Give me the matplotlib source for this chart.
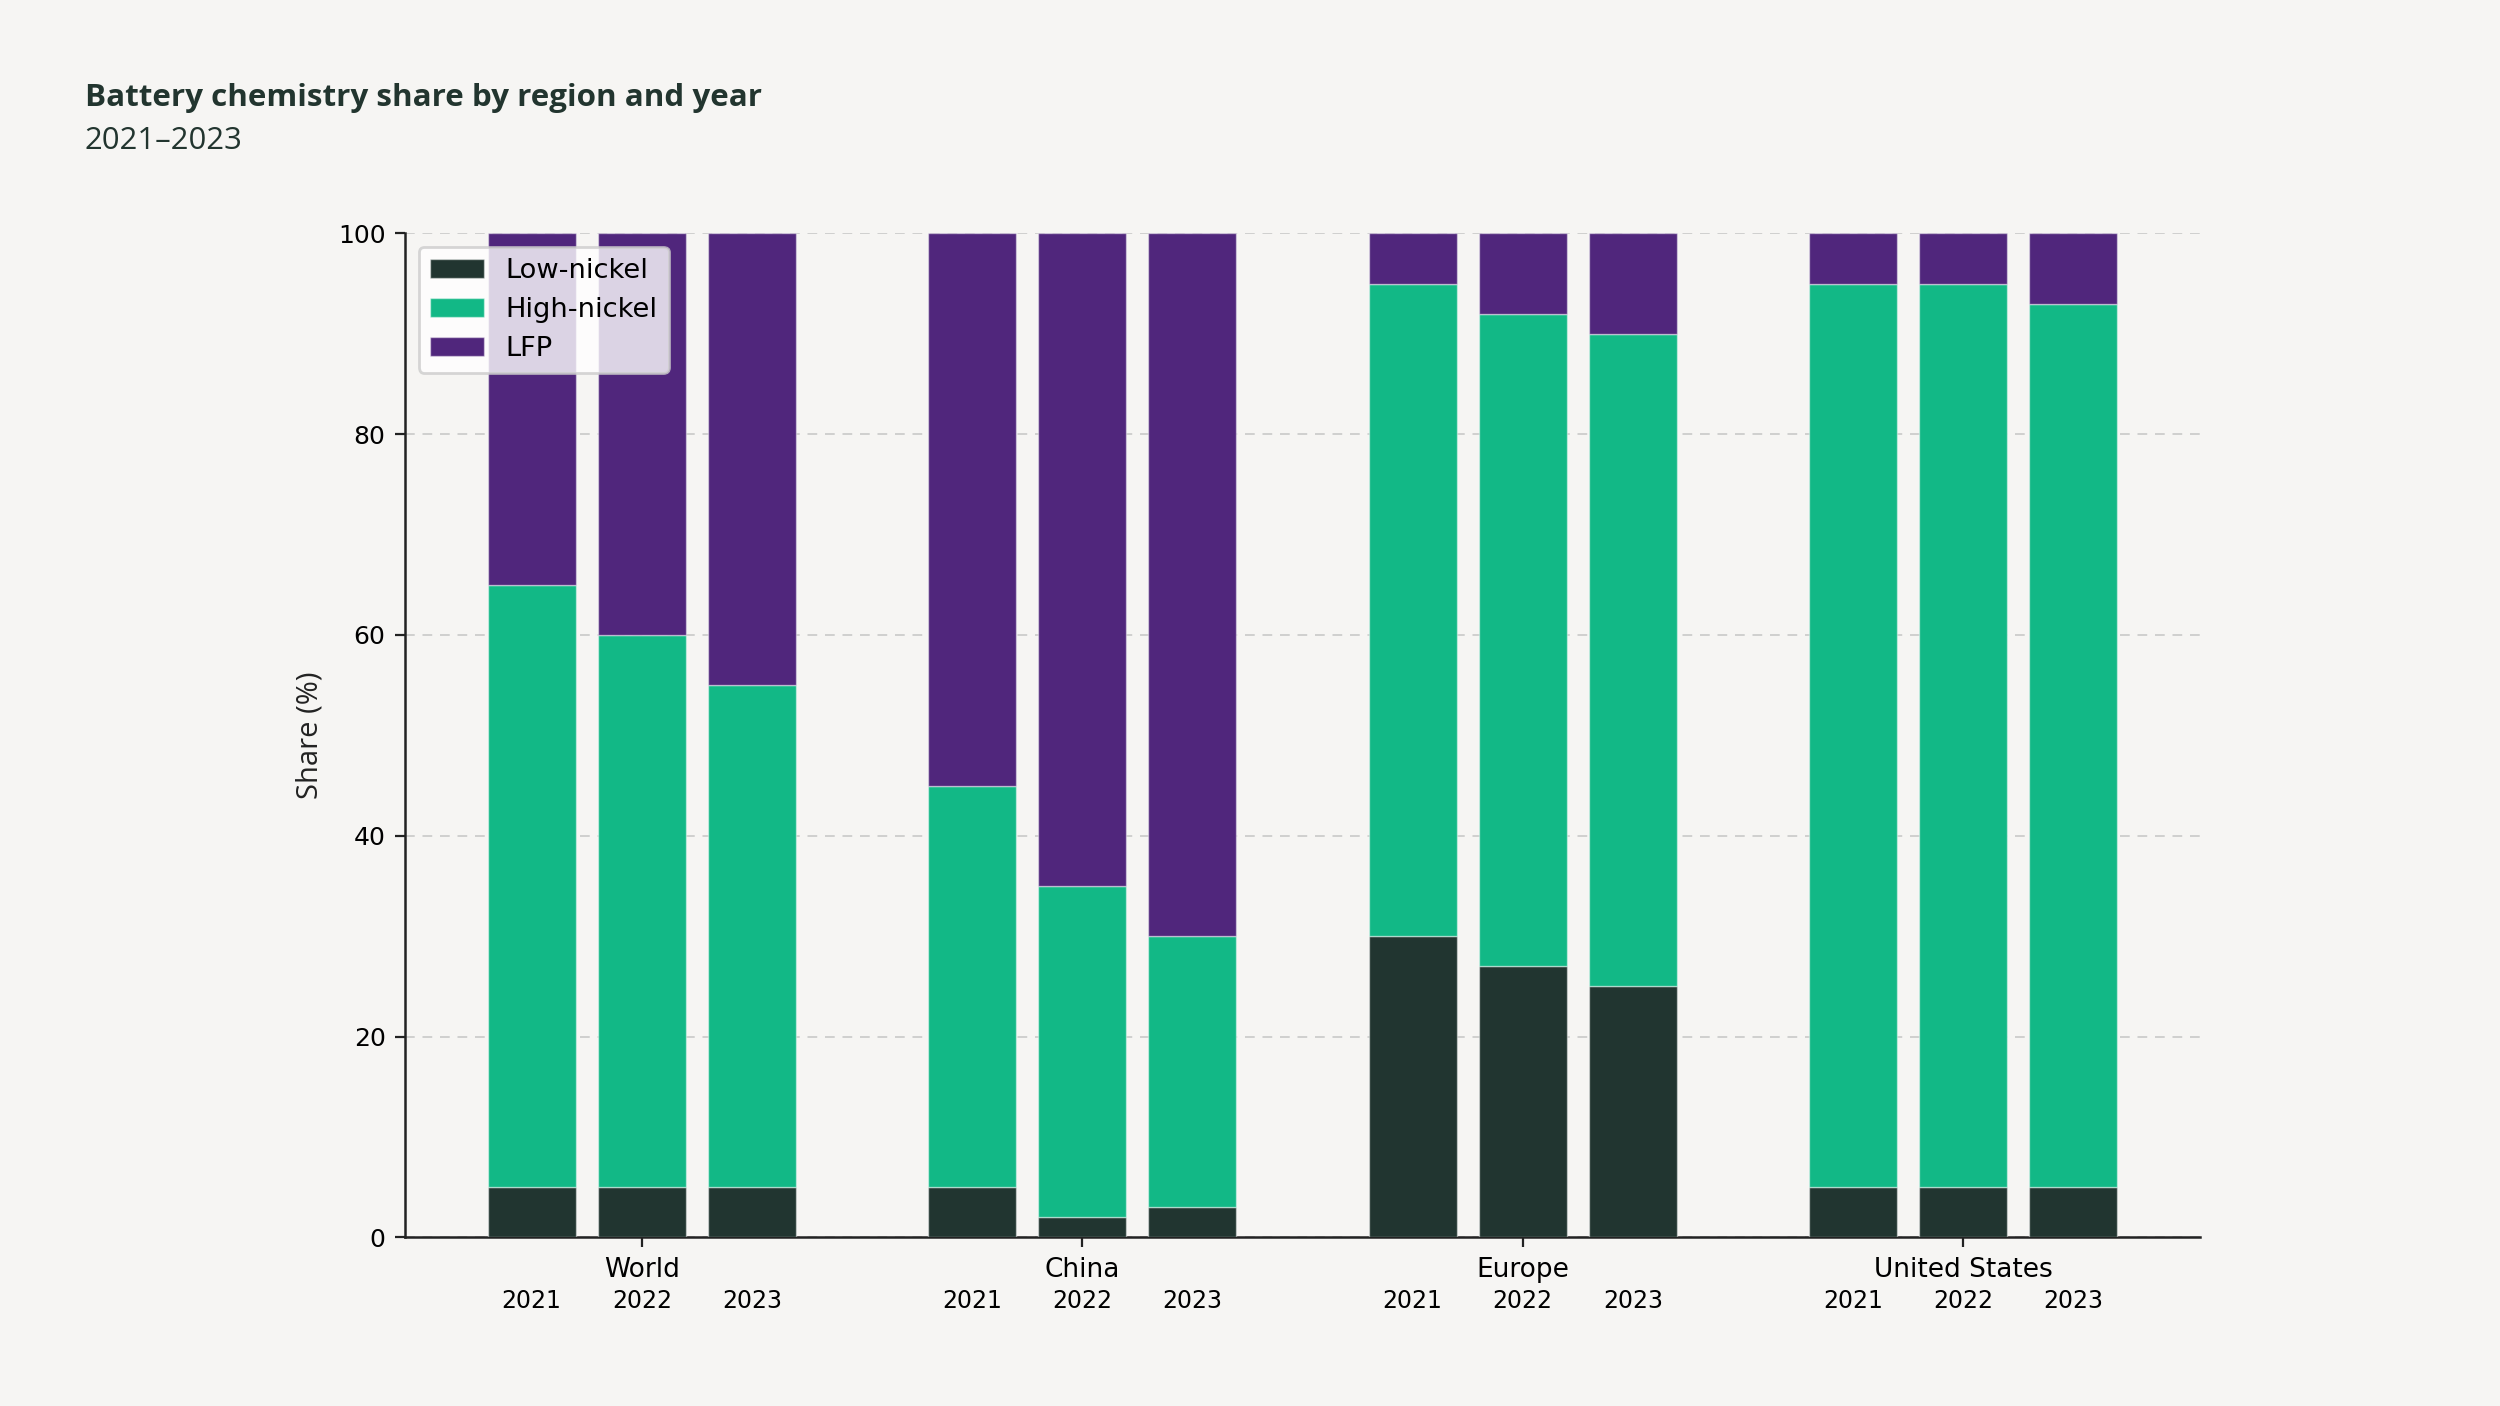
import matplotlib
matplotlib.use("Agg")
import matplotlib.pyplot as plt
import numpy as np

regions = ["World", "China", "Europe", "United States"]
years = ["2021", "2022", "2023"]
series = ["Low-nickel", "High-nickel", "LFP"]
# values per region, per year (2021, 2022, 2023)
low_nickel = {
    "World": [5, 5, 5],
    "China": [5, 2, 3],
    "Europe": [30, 27, 25],
    "United States": [5, 5, 5],
}
high_nickel = {
    "World": [60, 55, 50],
    "China": [40, 33, 27],
    "Europe": [65, 65, 65],
    "United States": [90, 90, 88],
}
lfp = {
    "World": [35, 40, 45],
    "China": [55, 65, 70],
    "Europe": [5, 8, 10],
    "United States": [5, 5, 7],
}
colors = ["#213530", "#12b886", "#50267c"]

BG = "#f6f5f3"
fig = plt.figure(figsize=(12.5, 7.03), dpi=200, facecolor=BG)
ax = fig.add_axes([0.162, 0.120, 0.718, 0.714])
ax.set_facecolor(BG)

group_gap = 4.0
offsets = [-1, 0, 1]
width = 0.8
xs, low, high, top = [], [], [], []
for gi, r in enumerate(regions):
    for yi in range(len(years)):
        xs.append(gi * group_gap + offsets[yi])
        low.append(low_nickel[r][yi])
        high.append(high_nickel[r][yi])
        top.append(lfp[r][yi])
xs = np.array(xs); low = np.array(low); high = np.array(high); top = np.array(top)

edge = (1, 1, 1, 0.45)
ax.bar(xs, low, width, color=colors[0], label=series[0], edgecolor=edge, linewidth=0.5, zorder=3)
ax.bar(xs, high, width, bottom=low, color=colors[1], label=series[1], edgecolor=edge, linewidth=0.5, zorder=3)
ax.bar(xs, top, width, bottom=low + high, color=colors[2], label=series[2], edgecolor=edge, linewidth=0.5, zorder=3)

ax.set_xlim(-2.15, (len(regions) - 1) * group_gap + 2.15)
ax.set_ylim(0, 100)
ax.set_yticks([0, 20, 40, 60, 80, 100])
ax.yaxis.grid(True, linestyle=(0, (5, 4)), color="#cfcfcf", linewidth=0.7, zorder=0)
ax.set_axisbelow(True)

ax.xaxis.remove_overlapping_locs = False
ax.set_xticks([gi * group_gap for gi in range(len(regions))])
ax.set_xticklabels(regions, fontsize=9.5, family="DejaVu Sans")
ax.set_xticks(xs, minor=True)
ax.set_xticklabels(years * len(regions), minor=True, fontsize=8.5, family="DejaVu Sans")
ax.tick_params(axis="x", which="minor", length=0, pad=18.5)
ax.tick_params(axis="x", which="major", length=3.5, width=0.8, color="#222222")
ax.tick_params(axis="y", labelsize=9, length=3.5, width=0.8, color="#222222")

for s in ["top", "right"]:
    ax.spines[s].set_visible(False)
for s in ["left", "bottom"]:
    ax.spines[s].set_color("#222222")
    ax.spines[s].set_linewidth(0.9)

ax.set_ylabel("Share (%)", fontsize=10.5, family="Open Sans", color="#222222", labelpad=5)

leg = ax.legend(loc="upper left", fontsize=9.8, frameon=True, facecolor="white",
                framealpha=0.8, edgecolor="#cccccc", labelspacing=0.48)

fig.text(0.034, 0.9246, "Battery chemistry share by region and year", fontsize=11.3,
         fontweight="bold", family="Open Sans", color="#22352f", va="baseline", ha="left")
fig.text(0.034, 0.894, "2021\u20132023", fontsize=11.2, family="Open Sans",
         color="#22352f", va="baseline", ha="left")

fig.savefig("out.png", dpi=200, facecolor=BG)
